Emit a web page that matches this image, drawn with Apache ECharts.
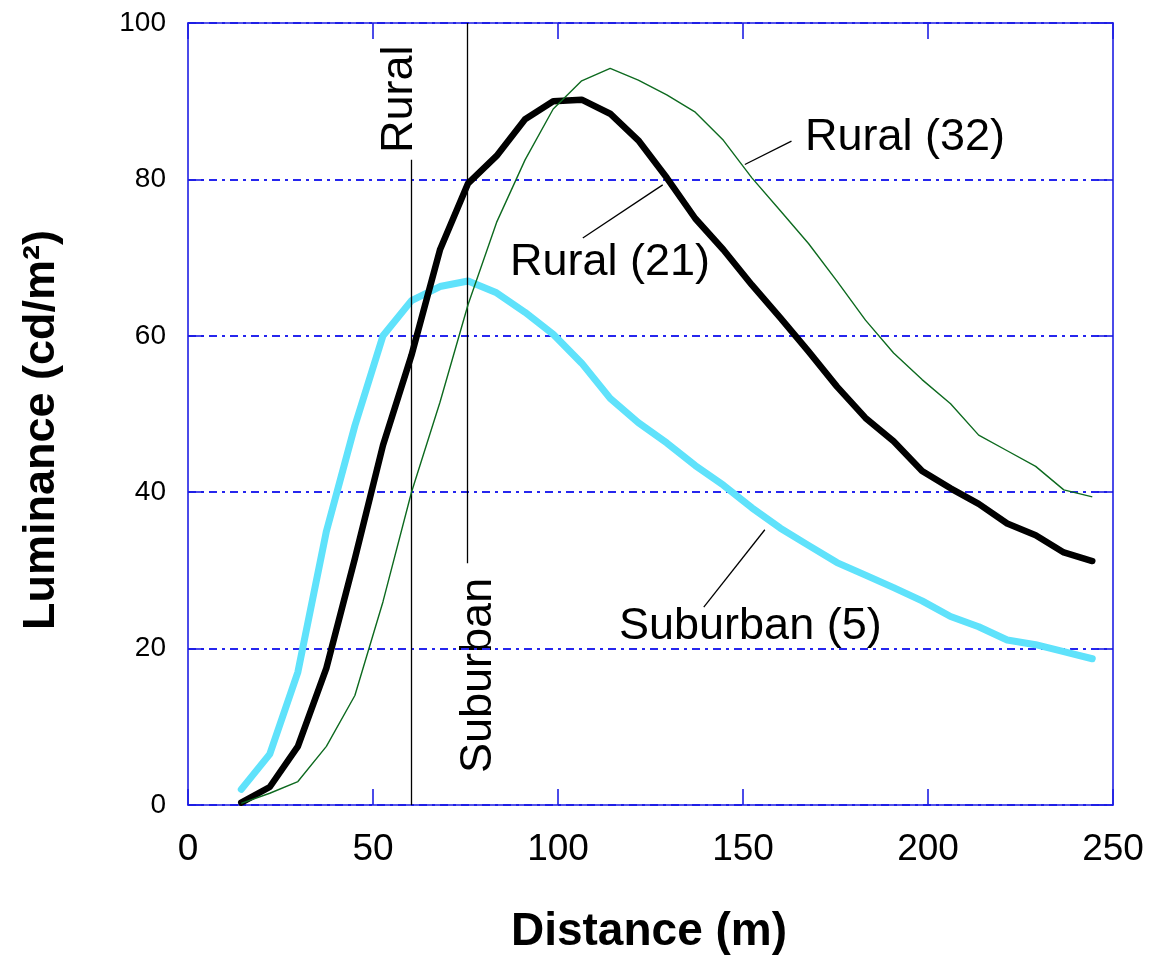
<!DOCTYPE html>
<html>
<head>
<meta charset="utf-8">
<script src="https://cdn.jsdelivr.net/npm/echarts@6/dist/echarts.min.js"></script>
<style>
html,body{margin:0;padding:0;background:#fff;}
#chart{width:1149px;height:959px;}
</style>
</head>
<body>
<div id="chart"></div>
<script>
// Distance (m) of each measurement point
const distance = [14.4, 22.1, 29.7, 37.4, 45.1, 52.7, 60.4, 68.1, 75.7, 83.4, 91.1, 98.7, 106.4, 114.1, 121.7, 129.4, 137.1, 144.7, 152.4, 160.1, 167.7, 175.4, 183.1, 190.7, 198.4, 206.1, 213.7, 221.4, 229.1, 236.7, 244.4];
// Luminance (cd/m2)
const suburban5 = [2.0, 6.5, 17, 35, 48.5, 60, 64.5, 66.3, 67, 65.5, 63, 60.2, 56.5, 52, 48.9, 46.3, 43.4, 40.9, 38, 35.4, 33.2, 31, 29.4, 27.8, 26.1, 24.1, 22.8, 21.1, 20.5, 19.6, 18.7];
const rural21 = [0.3, 2.3, 7.5, 17.5, 31.5, 46, 57.5, 71, 79.5, 83, 87.7, 90, 90.2, 88.4, 85, 80.2, 75, 71, 66.5, 62.3, 58, 53.5, 49.5, 46.5, 42.7, 40.5, 38.5, 36, 34.5, 32.3, 31.2];
const rural32 = [0.2, 1.5, 3.0, 7.5, 14, 26, 40, 51.5, 64, 74.5, 82.5, 89, 92.6, 94.2, 92.7, 90.8, 88.6, 85, 80.2, 76, 71.8, 67, 62, 57.8, 54.4, 51.3, 47.3, 45.3, 43.3, 40.3, 39.4];

const xTicks = [0, 50, 100, 150, 200, 250];
const yTicks = [0, 20, 40, 60, 80, 100];

// Reference positions (distance) and their vertical extents (luminance)
const ruralMark = {x: 60.4, yFrom: 0, yTo: 82.5};
const suburbanMark = {x: 75.5, yFrom: 30.9, yTo: 100};

// Leader lines for curve labels [x1, y1, x2, y2] in data units
const leaderRural21 = [106.7, 72.5, 128.3, 79.3];
const leaderRural32 = [150.5, 81.9, 163.1, 84.9];
const leaderSuburban5 = [139.4, 25.3, 155.9, 35.2];

const FONT = '"Liberation Sans", Arial, Helvetica, sans-serif';
const AXIS_BLUE = '#1e1ee4';
const GRID_BLUE = '#2626ee';

function pairs(xs, ys) { return xs.map((x, i) => [x, ys[i]]); }
function seg(a) { return [[{coord: [a[0], a[1]]}, {coord: [a[2], a[3]]}]]; }

const chart = echarts.init(document.getElementById('chart'), null, {renderer: 'canvas'});

const baseX = {
  type: 'value', min: xTicks[0], max: xTicks[xTicks.length - 1], interval: 50,
  axisLine: {show: true, onZero: false, lineStyle: {color: AXIS_BLUE, width: 1.6}},
  axisTick: {show: true, inside: true, length: 16, lineStyle: {color: AXIS_BLUE, width: 1.6}},
  splitLine: {show: false}
};
const baseY = {
  type: 'value', min: yTicks[0], max: yTicks[yTicks.length - 1], interval: 20,
  axisLine: {show: true, onZero: false, lineStyle: {color: AXIS_BLUE, width: 1.6}},
  axisTick: {show: true, inside: true, length: 16, lineStyle: {color: AXIS_BLUE, width: 1.6}}
};

chart.setOption({
  backgroundColor: '#ffffff',
  animation: false,
  grid: {left: 188, right: 36, top: 23, bottom: 154, containLabel: false},
  xAxis: [
    Object.assign({}, baseX, {
      position: 'bottom',
      axisLabel: {show: true, color: '#000', fontFamily: FONT, fontSize: 37, margin: 26}
    }),
    Object.assign({}, baseX, {position: 'top', axisLabel: {show: false}})
  ],
  yAxis: [
    Object.assign({}, baseY, {
      position: 'left',
      axisLabel: {show: true, color: '#000', fontFamily: FONT, fontSize: 28, margin: 22},
      splitLine: {show: true, lineStyle: {color: GRID_BLUE, width: 1.8, type: [8, 5, 3, 5]}}
    }),
    Object.assign({}, baseY, {position: 'right', axisLabel: {show: false}, splitLine: {show: false}})
  ],
  series: [
    {
      name: 'Suburban (5)', type: 'line', data: pairs(distance, suburban5),
      showSymbol: false, symbol: 'none', smooth: false,
      lineStyle: {color: '#5fe2fb', width: 7, join: 'round', cap: 'round'}, z: 3
    },
    {
      name: 'Rural (21)', type: 'line', data: pairs(distance, rural21),
      showSymbol: false, symbol: 'none', smooth: false,
      lineStyle: {color: '#000000', width: 6.5, join: 'round', cap: 'round'}, z: 4
    },
    {
      name: 'Rural (32)', type: 'line', data: pairs(distance, rural32),
      showSymbol: false, symbol: 'none', smooth: false,
      lineStyle: {color: '#0d6a1f', width: 1.4}, z: 5
    },
    {
      name: 'marks', type: 'line', data: [], z: 2,
      markLine: {
        silent: true, symbol: ['none', 'none'], label: {show: false},
        lineStyle: {color: '#000', width: 1.3, type: 'solid'},
        data: [
          [{coord: [ruralMark.x, ruralMark.yFrom]}, {coord: [ruralMark.x, ruralMark.yTo]}],
          [{coord: [suburbanMark.x, suburbanMark.yFrom]}, {coord: [suburbanMark.x, suburbanMark.yTo]}]
        ].concat(seg(leaderRural21), seg(leaderRural32), seg(leaderSuburban5))
      }
    }
  ],
  graphic: [
    {type: 'text', x: 649, y: 932, style: {text: 'Distance (m)', font: 'bold 46px ' + FONT, fill: '#000', align: 'center', verticalAlign: 'middle'}},
    {type: 'text', x: 42, y: 430, rotation: Math.PI / 2, style: {text: 'Luminance (cd/m²)', font: 'bold 45px ' + FONT, fill: '#000', align: 'center', verticalAlign: 'middle'}},
    {type: 'text', x: 510, y: 263, style: {text: 'Rural (21)', font: '45px ' + FONT, fill: '#000', align: 'left', verticalAlign: 'middle'}},
    {type: 'text', x: 805, y: 138, style: {text: 'Rural (32)', font: '45px ' + FONT, fill: '#000', align: 'left', verticalAlign: 'middle'}},
    {type: 'text', x: 619, y: 627, style: {text: 'Suburban (5)', font: '45px ' + FONT, fill: '#000', align: 'left', verticalAlign: 'middle'}},
    {type: 'text', x: 400, y: 153, rotation: Math.PI / 2, style: {text: 'Rural', font: '45px ' + FONT, fill: '#000', align: 'left', verticalAlign: 'middle'}},
    {type: 'text', x: 479, y: 773, rotation: Math.PI / 2, style: {text: 'Suburban', font: '45px ' + FONT, fill: '#000', align: 'left', verticalAlign: 'middle'}}
  ]
});
</script>
</body>
</html>
